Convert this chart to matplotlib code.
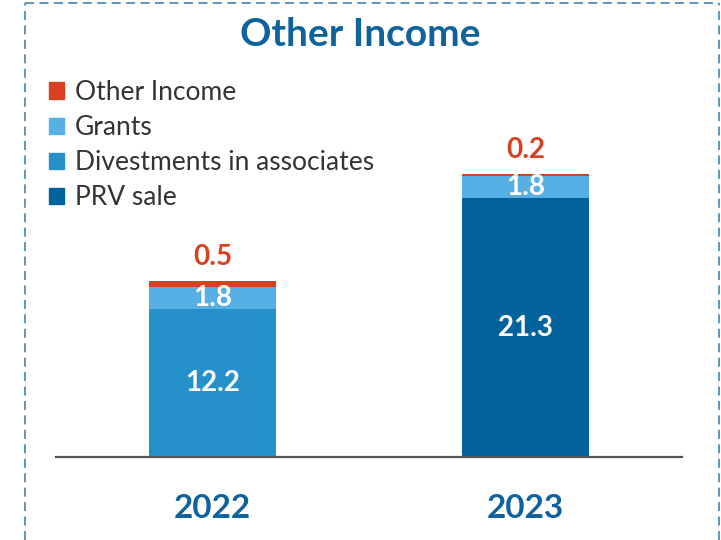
import matplotlib
matplotlib.use("Agg")
import matplotlib.pyplot as plt
from matplotlib.lines import Line2D
from matplotlib.patches import Patch
import numpy as np

plt.rcParams['font.family'] = ['Lato', 'DejaVu Sans']

years = ["2022", "2023"]
prv_sale = [0.0, 21.3]
divestments = [12.2, 0.0]
grants = [1.8, 1.8]
other_income = [0.5, 0.2]

c_prv = "#02629B"
c_div = "#2590CA"
c_grants = "#56B0E3"
c_other = "#D84020"
c_title = "#0E639C"

W, H = 721, 540
fig = plt.figure(figsize=(W / 100, H / 100), dpi=100)
ax = fig.add_axes([56 / W, (H - 457) / H, 626 / W, 364.5 / H])

x = np.arange(len(years))
width = 0.403
prv = np.array(prv_sale)
div = np.array(divestments)
gr = np.array(grants)
oth = np.array(other_income)

ax.bar(x, prv, width, color=c_prv)
ax.bar(x, div, width, bottom=prv, color=c_div)
base2 = prv + div
ax.bar(x, gr, width, bottom=base2, color=c_grants)
base3 = base2 + gr
ax.bar(x, oth, width, bottom=base3, color=c_other)

for i in range(len(years)):
    main = prv[i] + div[i]
    ax.text(x[i], main / 2, f"{main:.1f}", ha="center", va="center",
            color="white", fontsize=20, fontweight="bold")
    ax.text(x[i], base2[i] + gr[i] / 2, f"{gr[i]:.1f}", ha="center", va="center",
            color="white", fontsize=20, fontweight="bold")
    ax.text(x[i], base3[i] + oth[i] + 2.0, f"{oth[i]:.1f}", ha="center", va="center",
            color=c_other, fontsize=20, fontweight="bold")

ax.set_xlim(-0.5, 1.5)
ax.set_ylim(0, 30)
for s in ["top", "right", "left"]:
    ax.spines[s].set_visible(False)
ax.spines["bottom"].set_color("#555555")
ax.spines["bottom"].set_linewidth(1.6)
ax.set_yticks([])
ax.set_xticks(x)
ax.set_xticklabels(years, fontsize=24, fontweight="bold", color=c_title)
ax.tick_params(axis="x", length=0, pad=27)

fig.text(360 / W, 1 - 35 / H, "Other Income", ha="center", va="center",
         fontsize=28, fontweight="bold", color=c_title)

handles = [Patch(color=c_other), Patch(color=c_grants), Patch(color=c_div), Patch(color=c_prv)]
labels = ["Other Income", "Grants", "Divestments in associates", "PRV sale"]
leg = fig.legend(handles, labels, loc="upper left", bbox_to_anchor=(49 / W, 1 - 80 / H),
                 frameon=False, fontsize=19, handlelength=0.58, handleheight=0.58,
                 handletextpad=0.4, labelspacing=0.38, borderaxespad=0, borderpad=0)
for t in leg.get_texts():
    t.set_color("#333333")

# dashed border
bc = "#4F8DB8"
kw = dict(color=bc, linewidth=1.3, linestyle=(0, (5, 3)), transform=fig.transFigure)
fig.add_artist(Line2D([25 / W, 25 / W], [0, 1 - 3 / H], **kw))
fig.add_artist(Line2D([25 / W, 719 / W], [1 - 3 / H, 1 - 3 / H], **kw))
fig.add_artist(Line2D([719 / W, 719 / W], [0, 1 - 3 / H], **kw))

fig.savefig("out.png", dpi=100)
